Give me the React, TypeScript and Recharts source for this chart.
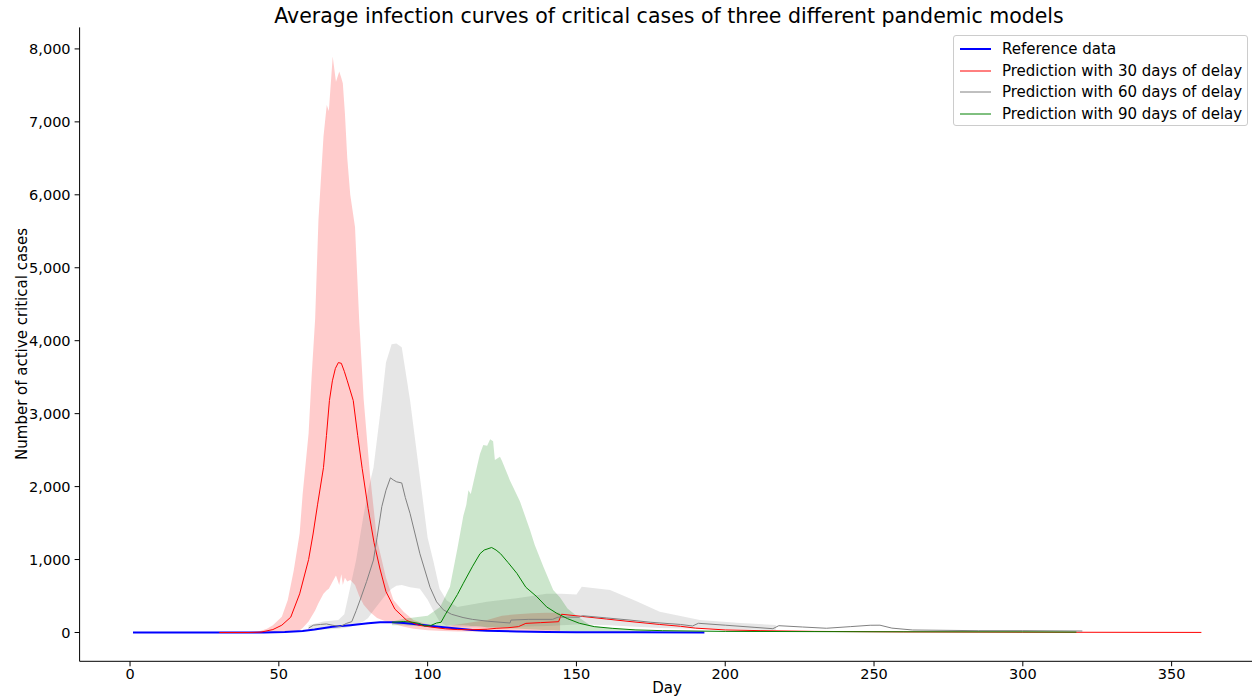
import React from "react";
import { ComposedChart, Line, Area, XAxis, YAxis } from "recharts";

// ---------- data ----------
const xTicks = [0, 50, 100, 150, 200, 250, 300, 350];
const yTicks = [0, 1000, 2000, 3000, 4000, 5000, 6000, 7000, 8000];

const blueDays = [1, 45, 52, 58, 62, 68, 74, 80, 84, 88, 92, 97, 102, 108, 115, 120, 130, 140, 150, 170, 193];
const blueVals = [0, 0, 5, 20, 40, 80, 100, 125, 140, 140, 130, 110, 85, 60, 35, 25, 15, 8, 4, 2, 0];

const redDays = [30, 40, 44, 48, 51, 54, 57, 60, 61.5, 63, 65, 66, 67, 68, 69, 70, 71, 72, 73, 75, 76.5, 78, 80, 82, 84, 86, 89, 93, 97, 101, 106, 110, 115, 120, 123, 127, 130.5, 133, 138, 144, 145, 152, 160, 168, 178, 185, 190, 200, 212, 230, 260, 300, 360];
const redVals = [0, 0, 5, 40, 100, 210, 530, 1000, 1350, 1750, 2260, 2700, 3180, 3450, 3620, 3700, 3690, 3580, 3450, 3180, 2700, 2250, 1700, 1230, 870, 560, 320, 165, 100, 75, 50, 40, 38, 45, 57, 65, 80, 125, 135, 148, 250, 220, 185, 150, 110, 85, 60, 35, 25, 15, 8, 4, 1];

const redBandDays = [40, 43, 46, 48, 51, 53, 55, 57, 58, 60, 61, 62.2, 63.3, 65, 66.1, 66.8, 68.1, 69.2, 70.3, 71, 71.5, 72.2, 73, 74, 75.6, 77, 78.5, 80.6, 83, 86, 88.5, 92, 95.2, 100, 105, 110, 115, 120, 125, 130, 135, 140, 144.5];
const redBandLow = [0, 0, 2, 3, 5, 10, 20, 30, 60, 150, 220, 300, 400, 530, 580, 600, 700, 780, 650, 800, 650, 750, 700, 720, 650, 500, 380, 280, 200, 150, 120, 80, 50, 30, 20, 15, 15, 15, 20, 20, 20, 20, 20];
const redBandHigh = [0, 10, 50, 100, 215, 445, 850, 1360, 1900, 2730, 3500, 4300, 5650, 6800, 7230, 7150, 7895, 7550, 7690, 7600, 7530, 7120, 6500, 6000, 5560, 4285, 3200, 2175, 1270, 750, 445, 280, 170, 110, 80, 110, 140, 170, 230, 250, 265, 270, 270];

const grayDays = [60, 61.6, 64, 66, 68, 70.6, 72.8, 74.5, 76, 77.3, 79.5, 81.8, 83, 84.6, 86, 87.5, 88.5, 89.6, 91.3, 92.5, 94.1, 97.4, 100.8, 103, 105.3, 108, 111.9, 115, 120, 127.7, 128, 134, 142, 143.8, 151, 152, 160, 168, 175, 185, 189, 191, 200, 210, 216, 218, 226, 234, 242, 248.7, 252, 256, 263, 285, 300, 320];
const grayVals = [60, 100, 110, 117, 100, 80, 126, 148, 300, 445, 700, 994, 1300, 1725, 1950, 2120, 2090, 2065, 2050, 1850, 1630, 1080, 620, 420, 310, 250, 205, 180, 155, 130, 170, 180, 180, 210, 210, 230, 200, 170, 140, 110, 89, 126, 100, 70, 52, 93, 75, 58, 80, 99, 100, 60, 34, 25, 25, 20];

const grayBandDays = [60, 65, 70, 72, 74, 76, 78.4, 80, 81.8, 84.6, 86, 87.9, 89.5, 91.3, 94.1, 97.4, 100, 101.9, 104, 106.4, 110, 120, 130, 140, 145, 150, 151.8, 161.3, 170, 178, 191.5, 205, 217];
const grayBandLow = [30, 40, 50, 60, 80, 100, 150, 200, 300, 450, 520, 600, 640, 650, 620, 600, 450, 300, 150, 90, 80, 70, 80, 90, 100, 110, 110, 100, 80, 60, 50, 40, 35];
const grayBandHigh = [100, 150, 170, 250, 620, 1000, 1590, 1950, 2260, 3180, 3700, 3950, 3960, 3910, 3180, 2130, 1300, 985, 600, 440, 350, 420, 470, 530, 530, 520, 627, 583, 430, 285, 171, 130, 103];

const greenDays = [88, 92, 95, 97, 99, 101, 103, 104.5, 106, 107.5, 110, 112, 115, 117.6, 119, 121.5, 123, 124.5, 127, 130, 133, 136.7, 140, 143.4, 147, 151, 156, 162, 170, 179, 200, 250, 300, 318];
const greenVals = [140, 150, 140, 125, 90, 95, 130, 140, 250, 350, 520, 675, 900, 1080, 1130, 1165, 1130, 1080, 960, 810, 620, 490, 350, 263, 190, 126, 80, 57, 35, 25, 15, 10, 8, 5];

const greenBandDays = [88, 92, 96, 100, 104.2, 106, 107.5, 110, 112, 113, 113.7, 114.5, 116.5, 117.6, 118.7, 120, 121, 122, 122.6, 124.3, 125, 127.7, 131, 134.4, 136, 138.9, 142.2, 144.5, 147, 150, 154.6, 160, 170, 175];
const greenBandLow = [100, 100, 90, 80, 80, 90, 100, 100, 100, 95, 95, 90, 90, 85, 80, 70, 70, 70, 65, 65, 60, 55, 50, 45, 40, 35, 30, 25, 20, 15, 12, 10, 5, 5];
const greenBandHigh = [150, 190, 210, 230, 350, 500, 627, 1150, 1600, 1750, 1950, 1900, 2260, 2450, 2570, 2560, 2650, 2620, 2365, 2410, 2350, 2080, 1800, 1405, 1200, 900, 583, 480, 330, 230, 100, 60, 30, 20];

const legendItems = [
  { label: "Reference data", color: "#0000ff", width: 2 },
  { label: "Prediction with 30 days of delay", color: "#ff0000", width: 1 },
  { label: "Prediction with 60 days of delay", color: "#808080", width: 1 },
  { label: "Prediction with 90 days of delay", color: "#008000", width: 1 },
];

// ---------- helpers ----------
const pts = (days: number[], vals: number[]) => days.map((d, i) => ({ day: d, v: vals[i] }));
const band = (days: number[], lo: number[], hi: number[]) =>
  days.map((d, i) => ({ day: d, range: [lo[i], hi[i]] }));

const blueData = pts(blueDays, blueVals);
const redData = pts(redDays, redVals);
const grayData = pts(grayDays, grayVals);
const greenData = pts(greenDays, greenVals);
const redBand = band(redBandDays, redBandLow, redBandHigh);
const grayBand = band(grayBandDays, grayBandLow, grayBandHigh);
const greenBand = band(greenBandDays, greenBandLow, greenBandHigh);

const FONT = "'DejaVu Sans', sans-serif";
const fmt = (v: number) => v.toLocaleString("en-US");

export default function App() {
  return (
    <div
      style={{
        position: "fixed",
        left: 0,
        top: 0,
        width: 1252,
        height: 700,
        overflow: "hidden",
        background: "#fff",
        fontFamily: FONT,
      }}
    >
      <ComposedChart
        width={1255}
        height={700}
        margin={{ top: 27.4, right: 0.2, left: 0, bottom: 8.7 }}
      >
        <XAxis
          xAxisId="top"
          orientation="top"
          type="number"
          dataKey="day"
          domain={[-16.95, 377.95]}
          allowDataOverflow
          height={0}
          tick={false}
          tickLine={false}
          axisLine={{ stroke: "#000", strokeWidth: 1 }}
        />
        <XAxis
          type="number"
          dataKey="day"
          domain={[-16.95, 377.95]}
          allowDataOverflow
          ticks={xTicks}
          height={30}
          tickSize={5}
          tickMargin={2}
          tick={{ fill: "#000", fontSize: 14.5, fontFamily: FONT }}
          tickLine={{ stroke: "#000" }}
          axisLine={{ stroke: "#000", strokeWidth: 1 }}
        />
        <YAxis
          type="number"
          domain={[-395, 8295]}
          allowDataOverflow
          ticks={yTicks}
          width={79.6}
          tickSize={5}
          tickMargin={4}
          tickFormatter={fmt}
          tick={{ fill: "#000", fontSize: 14.5, fontFamily: FONT }}
          tickLine={{ stroke: "#000" }}
          axisLine={{ stroke: "#000", strokeWidth: 1 }}
        />
        <Area data={redBand} dataKey="range" type="linear" stroke="none" fill="red" fillOpacity={0.2} isAnimationActive={false} dot={false} activeDot={false} />
        <Area data={grayBand} dataKey="range" type="linear" stroke="none" fill="gray" fillOpacity={0.2} isAnimationActive={false} dot={false} activeDot={false} />
        <Area data={greenBand} dataKey="range" type="linear" stroke="none" fill="green" fillOpacity={0.2} isAnimationActive={false} dot={false} activeDot={false} />
        <Line data={blueData} dataKey="v" type="linear" stroke="#0000ff" strokeWidth={2} dot={false} activeDot={false} isAnimationActive={false} />
        <Line data={redData} dataKey="v" type="linear" stroke="#ff0000" strokeWidth={1} dot={false} activeDot={false} isAnimationActive={false} />
        <Line data={grayData} dataKey="v" type="linear" stroke="#808080" strokeWidth={1} dot={false} activeDot={false} isAnimationActive={false} />
        <Line data={greenData} dataKey="v" type="linear" stroke="#008000" strokeWidth={1} dot={false} activeDot={false} isAnimationActive={false} />
      </ComposedChart>

      {/* title */}
      <div
        style={{
          position: "absolute",
          left: 0,
          width: 1338,
          top: 4,
          textAlign: "center",
          fontSize: 20.5,
          color: "#000",
          whiteSpace: "nowrap",
        }}
      >
        Average infection curves of critical cases of three different pandemic models
      </div>

      {/* x label */}
      <div
        style={{
          position: "absolute",
          left: 0,
          width: 1334,
          top: 679,
          textAlign: "center",
          fontSize: 15,
          color: "#000",
        }}
      >
        Day
      </div>

      {/* y label */}
      <div
        style={{
          position: "absolute",
          left: 22,
          top: 344,
          transform: "translate(-50%, -50%) rotate(-90deg)",
          fontSize: 15,
          color: "#000",
          whiteSpace: "nowrap",
        }}
      >
        Number of active critical cases
      </div>

      {/* legend */}
      <div
        style={{
          position: "absolute",
          left: 953,
          top: 35,
          width: 295,
          height: 91,
          border: "1px solid #cccccc",
          borderRadius: 3,
          background: "rgba(255,255,255,0.8)",
          boxSizing: "border-box",
        }}
      >
        {legendItems.map((it, i) => (
          <div
            key={it.label}
            style={{
              position: "absolute",
              left: 0,
              top: 3 + i * 21.7,
              height: 20,
              display: "flex",
              alignItems: "center",
              whiteSpace: "nowrap",
            }}
          >
            <svg width={48} height={20} style={{ display: "block" }}>
              <line x1={6} x2={37} y1={10} y2={10} stroke={it.color} strokeWidth={it.width} />
            </svg>
            <span style={{ fontSize: 15, color: "#000" }}>{it.label}</span>
          </div>
        ))}
      </div>
    </div>
  );
}
